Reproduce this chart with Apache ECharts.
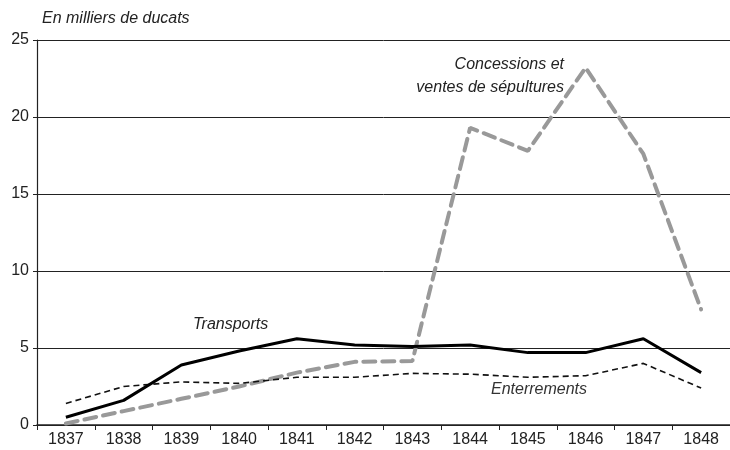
<!DOCTYPE html>
<html><head><meta charset="utf-8">
<script src="https://cdn.jsdelivr.net/npm/echarts@6/dist/echarts.min.js"></script>
<style>html,body{margin:0;padding:0;background:#fff}#c{width:730px;height:450px}</style>
</head><body><div id="c"></div>
<script>
const years = ['1837','1838','1839','1840','1841','1842','1843','1844','1845','1846','1847','1848'];
const transports = [0.5, 1.6, 3.9, 4.8, 5.6, 5.2, 5.1, 5.2, 4.7, 4.7, 5.6, 3.4];
const enterrements = [1.4, 2.5, 2.8, 2.7, 3.1, 3.1, 3.35, 3.3, 3.1, 3.2, 4.0, 2.4];
const concessions = [0.1, 0.9, 1.7, 2.5, 3.4, 4.1, 4.15, 19.3, 17.8, 23.2, 17.6, 7.5];
const yTicks = [0, 5, 10, 15, 20, 25];

const chart = echarts.init(document.getElementById('c'));
const font = 'Liberation Sans, Arial, sans-serif';
chart.setOption({
  animation: false,
  backgroundColor: '#fff',
  grid: { left: 37, top: 40, bottom: 25, right: -7, containLabel: false },
  xAxis: {
    type: 'category', data: years, boundaryGap: true,
    axisLine: { show: true, lineStyle: { color: '#222', width: 1.5 } },
    axisTick: { show: true, length: 5, lineStyle: { color: '#222' } },
    axisLabel: { color: '#222', fontSize: 16, fontFamily: font, margin: 7 },
    splitLine: { show: false }
  },
  yAxis: {
    type: 'value', min: yTicks[0], max: yTicks[yTicks.length-1], interval: 5,
    axisLine: { show: true, lineStyle: { color: '#222', width: 1.2 } },
    axisTick: { show: true, length: 4, lineStyle: { color: '#222' } },
    axisLabel: { color: '#222', fontSize: 16, fontFamily: font, margin: 8 },
    splitLine: { show: true, lineStyle: { color: '#222', width: 1 } }
  },
  series: [
    { type: 'line', data: concessions, symbol: 'none', z: 1,
      lineStyle: { color: '#999', width: 4, type: [12, 7], cap: 'round' } },
    { type: 'line', data: enterrements, symbol: 'none', z: 2,
      lineStyle: { color: '#111', width: 1.6, type: [6, 4] } },
    { type: 'line', data: transports, symbol: 'none', z: 3,
      lineStyle: { color: '#000', width: 3 } }
  ],
  graphic: [
    { type: 'text', left: 42, top: 11, style: { text: 'En milliers de ducats', font: 'italic 16px ' + font, fill: '#222' } },
    { type: 'text', left: 193, top: 317, style: { text: 'Transports', font: 'italic 16px ' + font, fill: '#222' } },
    { type: 'text', left: 491, top: 382, style: { text: 'Enterrements', font: 'italic 16px ' + font, fill: '#333' } },
    { type: 'text', right: 166, top: 57, style: { text: 'Concessions et', font: 'italic 16px ' + font, fill: '#222' } },
    { type: 'text', right: 166, top: 80, style: { text: 'ventes de sépultures', font: 'italic 16px ' + font, fill: '#222' } }
  ]
});
</script></body></html>
